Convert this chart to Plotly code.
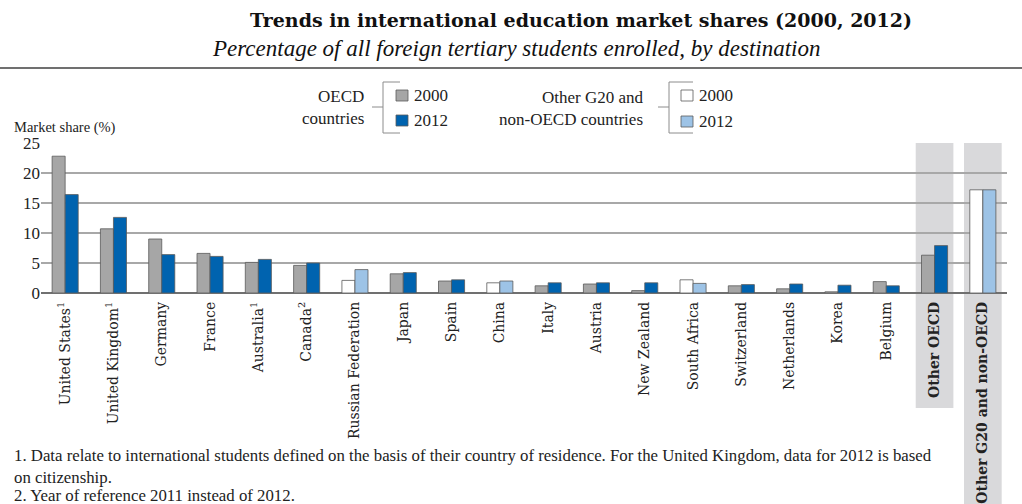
import plotly.graph_objects as go

categories = ["United States<sup>1</sup>", "United Kingdom<sup>1</sup>", "Germany", "France",
              "Australia<sup>1</sup>", "Canada<sup>2</sup>", "Russian Federation", "Japan", "Spain",
              "China", "Italy", "Austria", "New Zealand", "South Africa", "Switzerland",
              "Netherlands", "Korea", "Belgium", "<b>Other OECD</b>", "<b>Other G20 and non-OECD</b>"]
group = ["OECD", "OECD", "OECD", "OECD", "OECD", "OECD", "non", "OECD", "OECD",
         "non", "OECD", "OECD", "OECD", "non", "OECD", "OECD", "OECD", "OECD", "OECD", "non"]
share_2000 = [22.8, 10.7, 9.0, 6.6, 5.1, 4.6, 2.1, 3.2, 2.0, 1.7, 1.2, 1.5, 0.4, 2.2, 1.2, 0.7, 0.2, 1.9, 6.3, 17.2]
share_2012 = [16.4, 12.6, 6.4, 6.1, 5.6, 5.0, 3.9, 3.4, 2.2, 2.0, 1.7, 1.7, 1.7, 1.6, 1.4, 1.5, 1.3, 1.2, 7.9, 17.2]
y_ticks = [0, 5, 10, 15, 20, 25]

C_GRAY = "#A6A6A6"
C_BLUE = "#0063AF"
C_WHITE = "#FFFFFF"
C_LBLUE = "#9DC3E6"
C_EDGE = "#5A5A5A"

W, H = 1022, 504
ML, MR, MT, MB = 41, 15, 143, 211
PW, PH = W - ML - MR, H - MT - MB

def px(x):
    return (x - ML) / PW

def py(y):
    return (H - MB - y) / PH

col2000 = [C_GRAY if g == "OECD" else C_WHITE for g in group]
col2012 = [C_BLUE if g == "OECD" else C_LBLUE for g in group]

SERIF = "Liberation Serif"
SLAB = "DejaVu Serif"

fig = go.Figure()
fig.add_trace(go.Bar(x=categories, y=share_2000, name="2000",
                     marker=dict(color=col2000, line=dict(color=C_EDGE, width=0.8))))
fig.add_trace(go.Bar(x=categories, y=share_2012, name="2012",
                     marker=dict(color=col2012, line=dict(color=C_EDGE, width=0.8))))

shapes = []
for idx, bottom in [(18, py(408)), (19, py(506))]:
    shapes.append(dict(type="rect", xref="x", yref="paper", x0=idx - 0.39, x1=idx + 0.39,
                       y0=bottom, y1=1, fillcolor="#D9D9DB", line=dict(width=0), layer="below"))
shapes.append(dict(type="line", xref="paper", yref="paper", x0=px(0), x1=px(W), y0=py(68), y1=py(68),
                   line=dict(color="#707070", width=2)))

annotations = []
annotations.append(dict(text="<b>Trends in international education market shares (2000, 2012)</b>",
                        xref="paper", yref="paper", x=px(581), y=py(20), showarrow=False,
                        xanchor="center", yanchor="middle", font=dict(family=SLAB, size=19, color="#111")))
annotations.append(dict(text="<i>Percentage of all foreign tertiary students enrolled, by destination</i>",
                        xref="paper", yref="paper", x=px(516), y=py(48), showarrow=False,
                        xanchor="center", yanchor="middle", font=dict(family=SERIF, size=23, color="#111")))
annotations.append(dict(text="Market share (%)", xref="paper", yref="paper", x=px(12), y=py(127),
                        showarrow=False, xanchor="left", yanchor="middle",
                        font=dict(family=SERIF, size=14.5, color="#222")))

def legend_block(title, text_right, text_y, bx, arm_end, sq_x0, sq_y, fills):
    annotations.append(dict(text=title, xref="paper", yref="paper", x=px(text_right), y=py(text_y),
                            showarrow=False, xanchor="right", yanchor="middle", align="right",
                            font=dict(family=SERIF, size=17, color="#222")))
    ln = dict(color="#8C8C8C", width=1)
    shapes.append(dict(type="line", xref="paper", yref="paper", x0=px(bx - 11), x1=px(bx),
                       y0=py(107), y1=py(107), line=ln))
    shapes.append(dict(type="line", xref="paper", yref="paper", x0=px(bx), x1=px(bx),
                       y0=py(82), y1=py(133), line=ln))
    for yy in (82, 133):
        shapes.append(dict(type="line", xref="paper", yref="paper", x0=px(bx), x1=px(arm_end),
                           y0=py(yy), y1=py(yy), line=ln))
    for (y0, lab), fc in zip(sq_y, fills):
        shapes.append(dict(type="rect", xref="paper", yref="paper", x0=px(sq_x0), x1=px(sq_x0 + 12),
                           y0=py(y0 + 11), y1=py(y0), fillcolor=fc, line=dict(color=C_EDGE, width=0.8)))
        annotations.append(dict(text=lab, xref="paper", yref="paper", x=px(sq_x0 + 16), y=py(y0 + 5.5),
                                showarrow=False, xanchor="left", yanchor="middle",
                                font=dict(family=SERIF, size=17, color="#222")))

legend_block("OECD<br>countries", 366, 107, 383, 400, 396, [(90, "2000"), (115, "2012")], [C_GRAY, C_BLUE])
legend_block("Other G20 and<br>non-OECD countries", 646, 108, 669, 693, 681,
             [(90, "2000"), (116, "2012")], [C_WHITE, C_LBLUE])

footnotes = ["1. Data relate to international students defined on the basis of their country of residence. For the United Kingdom, data for 2012 is based",
             "on citizenship.",
             "2. Year of reference 2011 instead of 2012."]
for txt, yy in zip(footnotes, [455, 477, 495]):
    annotations.append(dict(text=txt, xref="paper", yref="paper", x=px(12), y=py(yy), showarrow=False,
                            xanchor="left", yanchor="middle",
                            font=dict(family=SERIF, size=16.8, color="#222")))

fig.update_layout(
    width=W, height=H, margin=dict(l=ML, r=MR, t=MT, b=MB, autoexpand=False),
    paper_bgcolor="white", plot_bgcolor="white",
    barmode="group", bargap=0.46, bargroupgap=0.0,
    showlegend=False, shapes=shapes, annotations=annotations,
)
fig.update_xaxes(type="category", tickangle=-90, showgrid=False, showline=False, ticks="",
                 automargin=False, ticklabelstandoff=5,
                 tickfont=dict(family=SLAB, size=14, color="#222"), range=[-0.5, 19.5])
fig.update_yaxes(range=[0, 25], tickvals=y_ticks, showgrid=True, gridcolor="#A8A8A8", gridwidth=1.5,
                 automargin=False,
                 zeroline=True, zerolinecolor="#707070", zerolinewidth=1.5, showline=False, ticks="",
                 tickfont=dict(family=SERIF, size=17, color="#222"))

fig.write_html("out.html", config={"displayModeBar": False},
               post_script="document.body.style.margin='0px';")
